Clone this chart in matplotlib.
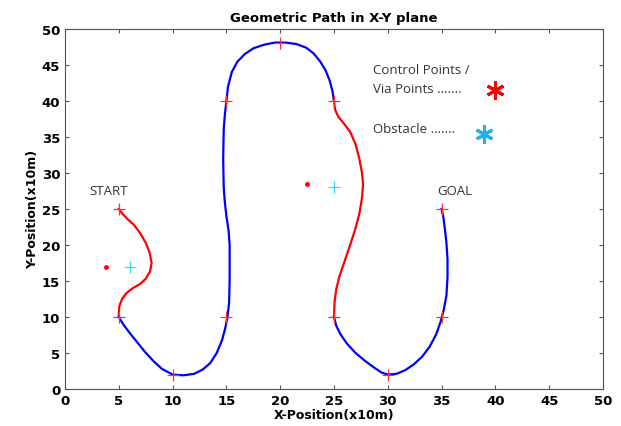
import numpy as np
import matplotlib.pyplot as plt

# path segments (x10m units)
red1_x = [5, 5.3, 5.8, 6.4, 7.0, 7.5, 7.85, 8.05, 7.9, 7.5, 7.0, 6.3, 5.7, 5.3, 5.05, 5.0, 5]
red1_y = [25, 24.4, 23.6, 22.8, 21.6, 20.3, 19, 17.5, 16.3, 15.3, 14.6, 14.0, 13.3, 12.5, 11.5, 10.6, 10]

blue1_x = [5, 5.4, 6.0, 6.7, 7.4, 8.2, 9.0, 10, 11, 12, 12.8, 13.5, 14.1, 14.6, 14.9, 15.1,
           15.25, 15.3, 15.3, 15.2, 15.0, 14.85, 14.75, 14.7, 14.75, 14.85, 15, 15.15, 15.5,
           16.0, 16.7, 17.5, 18.5, 19.5, 20.5, 21.5, 22.4, 23.1, 23.7, 24.2, 24.6, 24.85, 25]
blue1_y = [10, 9, 7.8, 6.5, 5.2, 3.9, 2.8, 2.0, 1.9, 2.1, 2.7, 3.6, 5.0, 6.8, 8.5, 10,
           12, 15, 20, 22, 24, 26, 28, 32, 36, 38, 40, 42, 44,
           45.4, 46.5, 47.3, 47.8, 48.1, 48.1, 47.9, 47.4, 46.6, 45.5, 44.3, 42.8, 41.4, 40]

red2_x = [25, 25.1, 25.4, 25.9, 26.5, 27.0, 27.35, 27.6, 27.7, 27.6, 27.35, 27.0, 26.5, 26.0,
          25.5, 25.2, 25.05, 25]
red2_y = [40, 38.8, 37.8, 36.9, 35.7, 34.0, 32, 30, 28.5, 26.5, 24.3, 22.3, 20.0, 17.8,
          15.6, 13.8, 12, 10]

blue2_x = [25, 25.2, 25.6, 26.2, 27.0, 27.8, 28.7, 29.4, 30, 30.8, 31.6, 32.4, 33.2, 33.9,
           34.5, 34.9, 35.2, 35.45, 35.55, 35.55, 35.45, 35.3, 35.15, 35]
blue2_y = [10, 8.8, 7.6, 6.3, 5.0, 4.0, 3.0, 2.3, 2.0, 2.1, 2.6, 3.4, 4.5, 5.9,
           7.6, 9.3, 11, 13, 15.5, 18, 20.3, 22.3, 24, 25]

ctrl_x = [5, 5, 10, 15, 15, 20, 25, 25, 30, 35, 35]
ctrl_y = [25, 10, 2, 10, 40, 48, 40, 10, 2, 10, 25]

obst_x = [6, 25]
obst_y = [17, 28]

dot_x = [3.8, 22.5]
dot_y = [17, 28.4]

fig = plt.figure(figsize=(6.21, 4.27), dpi=100)
ax = fig.add_axes([0.1047, 0.0867, 0.8663, 0.8433])

ax.plot(red1_x, red1_y, color='red', lw=1.6)
ax.plot(blue1_x, blue1_y, color='blue', lw=1.6)
ax.plot(red2_x, red2_y, color='red', lw=1.6)
ax.plot(blue2_x, blue2_y, color='blue', lw=1.6)

ax.plot(ctrl_x, ctrl_y, '+', color='#ff3030', ms=8, mew=0.9, ls='none')
ax.plot(obst_x, obst_y, '+', color='#30e0f0', ms=8, mew=0.9, ls='none')
ax.plot(dot_x, dot_y, 'o', color='red', ms=2.5, ls='none')

# annotations
lab = dict(family='Open Sans', color='#333333', fontsize=9.5)
ax.text(2.3, 27.5, 'START', va='center', **lab)
ax.text(34.6, 27.5, 'GOAL', va='center', **lab)
ax.text(28.6, 43.0, 'Control Points /\nVia Points .......', va='center', linespacing=1.6, **lab)
ax.text(28.6, 36.1, 'Obstacle .......', va='center', **lab)
ax.plot([40], [41.5], marker=(6, 2, 0), color='red', ms=13, mew=2.2, ls='none')
ax.plot([38.9], [35.4], marker=(6, 2, 0), color='#1fb0f0', ms=13, mew=2.2, ls='none')

ax.set_xlim(0, 50)
ax.set_ylim(0, 50)
ax.set_xticks(np.arange(0, 51, 5))
ax.set_yticks(np.arange(0, 51, 5))
ax.tick_params(direction='in', top=True, right=True, length=3, color='#555555',
               labelsize=9.5)
for lbl in ax.get_xticklabels() + ax.get_yticklabels():
    lbl.set_fontweight('bold')
for sp in ax.spines.values():
    sp.set_color('#555555')

ax.set_title('Geometric Path in X-Y plane', fontsize=9.5, fontweight='bold', pad=6)
ax.set_xlabel('X-Position(x10m)', fontsize=9, fontweight='bold', labelpad=1)
ax.set_ylabel('Y-Position(x10m)', fontsize=9, fontweight='bold', labelpad=2)

fig.savefig('out.png', dpi=100)
